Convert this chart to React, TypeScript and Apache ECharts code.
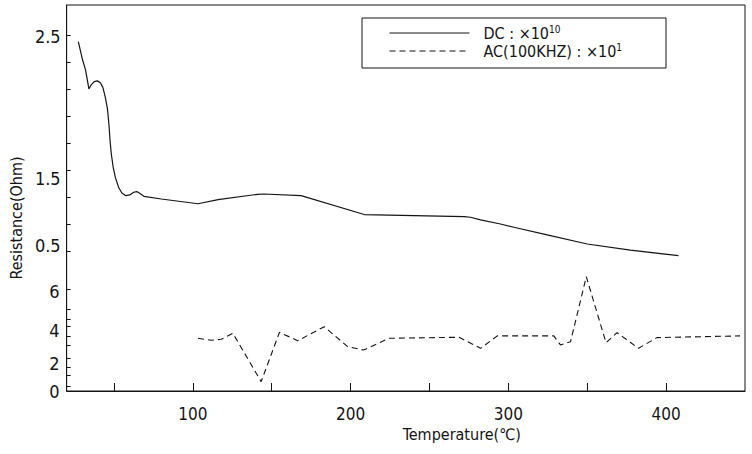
import React, { useEffect, useRef } from "react";
import * as echarts from "echarts";

// DC resistance (solid), x10^10 Ohm
const DC_TEMP = [27.4, 30, 32, 34.1, 35.5, 37.5, 39.5, 41.5, 43, 44.5, 45.9, 46.8, 47.5, 48.3, 49.5, 51, 53, 55, 57.5, 60, 62.5, 64.5, 66.5, 69, 80, 103.3, 116, 141, 145, 168.6, 208.6, 272, 276, 282.4, 295, 303.5, 324.6, 350, 377.3, 407.8];
const DC_VALUES = [2.45, 2.32, 2.24, 2.1, 2.13, 2.155, 2.16, 2.145, 2.11, 2.04, 1.95, 1.84, 1.72, 1.62, 1.52, 1.44, 1.37, 1.33, 1.31, 1.315, 1.335, 1.34, 1.325, 1.305, 1.285, 1.25, 1.28, 1.32, 1.322, 1.31, 1.17, 1.155, 1.15, 1.13, 1.1, 1.076, 1.02, 0.952, 0.907, 0.865];

// AC (100KHZ) resistance (dashed), x10^1 Ohm
const AC_TEMP = [103.3, 111.7, 118, 125.4, 143.3, 154.9, 166.5, 183.3, 198.1, 208.2, 224.4, 268.7, 282.4, 293, 328.8, 333, 339.4, 349.4, 361.9, 368.9, 382.5, 394.2, 446.8];
const AC_VALUES = [3.1, 2.98, 3.04, 3.39, 0.55, 3.45, 2.96, 3.78, 2.61, 2.41, 3.1, 3.16, 2.51, 3.24, 3.24, 2.71, 2.9, 6.72, 2.84, 3.43, 2.51, 3.14, 3.24];

// Axis ticks and labels
const X_LABELS = [100, 200, 300, 400];
const X_TICKS = [50, 100, 150, 200, 250, 300, 350, 400];
const DC_TICKS = [0.9, 1.1, 1.3, 1.5, 1.7, 1.9, 2.1, 2.3, 2.5];
const DC_LABEL_AT = [2.49, 1.44, 0.94];
const DC_LABEL_TEXT = ["2.5", "1.5", "0.5"];
const AC_TICKS = [0.3, 0.9, 1.4, 1.9, 2.7, 3.2, 3.8, 4.2, 4.8, 6];
const AC_LABEL_AT = [5.88, 3.53, 1.59, 0];
const AC_LABEL_TEXT = ["6", "4", "2", "0"];

const FONT = "'Liberation Sans Narrow', 'DejaVu Sans Condensed', 'Liberation Sans', sans-serif";
const INK = "#141414";

function pick(at: number[], texts: string[], v: number) {
  let best = 0;
  for (let i = 0; i < at.length; i++) {
    if (Math.abs(at[i] - v) < Math.abs(at[best] - v)) best = i;
  }
  return texts[best];
}

export default function App() {
  const ref = useRef<HTMLDivElement>(null);
  useEffect(() => {
    if (!ref.current) return;
    const chart = echarts.init(ref.current, undefined, { renderer: "svg" });
    const dcData = DC_TEMP.map((t, i) => [t, DC_VALUES[i]]);
    const acData = AC_TEMP.map((t, i) => [t, AC_VALUES[i]]);
    chart.setOption({
      animation: false,
      backgroundColor: "#fff",
      grid: {
        left: 65,
        top: 5,
        right: 7,
        bottom: 63,
        show: true,
        borderColor: INK,
        borderWidth: 1,
        containLabel: false,
      },
      legend: {
        left: 389,
        top: 24,
        orient: "vertical",
        itemWidth: 80,
        itemHeight: 14,
        itemGap: 1,
        padding: 0,
        selectedMode: false,
        itemStyle: { opacity: 0 },
        lineStyle: { width: 1 },
        data: ["DC", "AC"],
        formatter: (name: string) =>
          name === "DC" ? "{n|DC : ×10}{s|10}" : "{n|AC(100KHZ) : ×10}{s|1}",
        textStyle: {
          color: INK,
          fontFamily: FONT,
          fontSize: 16,
          padding: [0, 0, 0, 9],
          rich: {
            n: { fontFamily: FONT, fontSize: 16, color: INK, lineHeight: 18 },
            s: { fontFamily: FONT, fontSize: 10, color: INK, verticalAlign: "top", lineHeight: 18 },
          },
        },
      },
      graphic: [
        {
          type: "rect",
          shape: { x: 362, y: 18, width: 304, height: 50 },
          style: { fill: "none", stroke: INK, lineWidth: 1 },
          z: 10,
        },
      ],
      xAxis: {
        type: "value",
        min: 20,
        max: 450,
        name: "Temperature(℃)",
        nameLocation: "middle",
        nameGap: 32,
        nameTextStyle: { color: INK, fontFamily: FONT, fontSize: 16, padding: [0, 0, 0, 112] },
        axisLine: { show: true, onZero: false, lineStyle: { color: INK, width: 1 } },
        axisTick: { show: true, inside: true, length: 8, customValues: X_TICKS, lineStyle: { color: INK } },
        axisLabel: { customValues: X_LABELS, color: INK, fontFamily: FONT, fontSize: 17, margin: 14 },
        splitLine: { show: false },
      },
      yAxis: [
        {
          type: "value",
          position: "left",
          min: -0.137,
          max: 2.722,
          name: "Resistance(Ohm)",
          nameLocation: "middle",
          nameGap: 34,
          nameRotate: 90,
          nameTextStyle: { color: INK, fontFamily: FONT, fontSize: 16, padding: [0, 40, 0, 0] },
          axisLine: { show: true, onZero: false, lineStyle: { color: INK, width: 1 } },
          axisTick: { show: true, inside: true, length: 4, customValues: DC_TICKS, lineStyle: { color: INK } },
          axisLabel: {
            customValues: DC_LABEL_AT,
            formatter: (v: number) => pick(DC_LABEL_AT, DC_LABEL_TEXT, v),
            color: INK,
            fontFamily: FONT,
            fontSize: 18,
            margin: 6,
          },
          splitLine: { show: false },
        },
        {
          type: "value",
          position: "left",
          offset: 0,
          min: 0,
          max: 22.7,
          axisLine: { show: false, onZero: false },
          axisTick: { show: true, inside: true, length: 4, customValues: AC_TICKS, lineStyle: { color: INK } },
          axisLabel: {
            customValues: AC_LABEL_AT,
            formatter: (v: number) => pick(AC_LABEL_AT, AC_LABEL_TEXT, v),
            color: INK,
            fontFamily: FONT,
            fontSize: 18,
            margin: 7,
          },
          splitLine: { show: false },
        },
      ],
      series: [
        {
          name: "DC",
          type: "line",
          yAxisIndex: 0,
          data: dcData,
          showSymbol: false,
          symbol: "none",
          smooth: false,
          lineStyle: { color: INK, width: 1.2, type: "solid" },
          itemStyle: { color: INK },
        },
        {
          name: "AC",
          type: "line",
          yAxisIndex: 1,
          data: acData,
          showSymbol: false,
          symbol: "none",
          smooth: false,
          lineStyle: { color: INK, width: 1.1, type: [6, 4] },
          itemStyle: { color: INK },
        },
      ],
    });
    return () => chart.dispose();
  }, []);
  return (
    <div
      ref={ref}
      style={{ position: "fixed", left: 0, top: 0, width: 752, height: 454, background: "#fff" }}
    />
  );
}
